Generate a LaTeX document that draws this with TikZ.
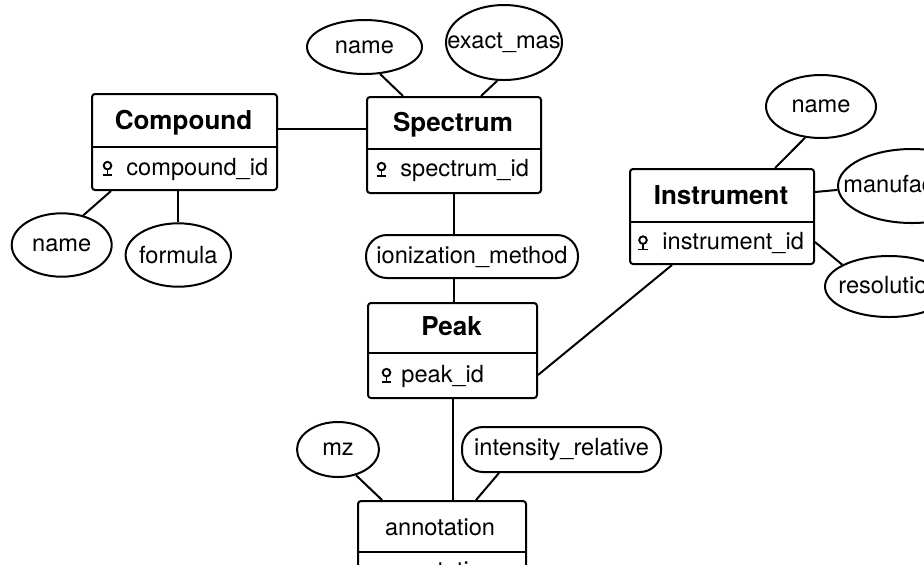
\documentclass[tikz,border=0pt]{standalone}
\usepackage{fontspec}
\setmainfont{TeX Gyre Heros}
\usetikzlibrary{calc,shapes.geometric}

\tikzset{
  ent/.style={draw, line width=1pt, rounded corners=1.5pt, inner sep=0pt, anchor=north west},
  attrell/.style={draw, ellipse, line width=1pt, inner sep=0pt},
  stad/.style={draw, line width=1pt, rounded corners=10.5pt, inner sep=0pt,
               font=\fontsize{11.8}{14}\selectfont},
  ttl/.style={font=\fontsize{13}{15}\selectfont\bfseries, inner sep=0pt, anchor=base},
  txt/.style={font=\fontsize{11.8}{14}\selectfont, inner sep=0pt},
  lbl/.style={label={[txt]center:#1}},
  link/.style={line width=1pt},
  keypic/.pic={
    \draw[line width=0.95pt] (0,4.7pt) circle[radius=1.9pt];
    \draw[line width=0.95pt] (0,2.8pt) -- (0,0) (-2.4pt,0) -- (2.4pt,0);
  }
}

\begin{document}
\begin{tikzpicture}[x=0.5pt, y=-0.5pt]
  \useasboundingbox (0,0) rectangle (924,564);
  \fill[white] (0,0) rectangle (924,564);
  \clip (0,0) rectangle (924,564);

  % ---------- entities ----------
  \node[ent, minimum width=92.5pt, minimum height=48pt] (comp)  at (91,93)   {};
  \node[ent, minimum width=87pt,   minimum height=48pt] (spec)  at (366,96)  {};
  \node[ent, minimum width=92pt,   minimum height=47.5pt] (instr) at (629,168) {};
  \node[ent, minimum width=84.5pt, minimum height=47.5pt] (peak)  at (367,302) {};
  \node[ent, minimum width=84pt,   minimum height=47pt] (annot) at (357,500) {};

  \draw[link] ($(comp.north west)+(0,54)$)  -- ($(comp.north east)+(0,54)$);
  \draw[link] ($(spec.north west)+(0,53)$)  -- ($(spec.north east)+(0,53)$);
  \draw[link] ($(instr.north west)+(0,54)$) -- ($(instr.north east)+(0,54)$);
  \draw[link] ($(peak.north west)+(0,51)$)  -- ($(peak.north east)+(0,51)$);
  \draw[link] ($(annot.north west)+(0,52)$) -- ($(annot.north east)+(0,52)$);

  % titles
  \node[ttl] (compT)  at (183.5,129) {Compound};
  \node[ttl] (specT)  at (453,131)   {Spectrum};
  \node[ttl] (instrT) at (721,204)   {Instrument};
  \node[ttl] (peakT)  at (451.5,335) {Peak};
  \node[txt, anchor=base] (annotT) at (440,535) {annotation};

  % key attributes
  \pic at (107.5,175) {keypic};
  \node[txt, anchor=base west] (compK) at (126,175) {compound\_id};
  \pic at (381.5,176) {keypic};
  \node[txt, anchor=base west] (specK) at (400,176) {spectrum\_id};
  \pic at (643,249.5) {keypic};
  \node[txt, anchor=base west] (instrK) at (662,249.5) {instrument\_id};
  \pic at (386.5,382) {keypic};
  \node[txt, anchor=base west] (peakK) at (401,382) {peak\_id};
  \node[txt, anchor=base] (annotK) at (440,578) {annotation};

  % ---------- attributes ----------
  \node[attrell, minimum width=57.5pt, minimum height=27pt,   lbl=name]          (sname)   at (364.5,47) {};
  \node[attrell, minimum width=58pt,   minimum height=37.5pt, lbl=exact\_mas]    (exact)   at (504,42.5) {};
  \node[attrell, minimum width=50pt,   minimum height=31.7pt, lbl=name]          (cname)   at (61.7,245) {};
  \node[attrell, minimum width=52.7pt, minimum height=31.7pt, lbl=formula]       (formula) at (178.3,255) {};
  \node[attrell, minimum width=55pt,   minimum height=31.5pt, lbl=name]          (iname)   at (821,106.5) {};
  \node[attrell, minimum width=74pt,   minimum height=37pt]                      (manuf)   at (912,186) {};
  \node[txt, anchor=base west] (manufT) at (843,192) {manufac};
  \node[attrell, minimum width=64pt,   minimum height=30.5pt]                    (resol)   at (889,286.5) {};
  \node[txt, anchor=base west] (resolT) at (838,293) {resolutio};
  \node[attrell, minimum width=41pt,   minimum height=27.5pt, lbl=mz]            (mz)      at (338,449.5) {};

  \node[stad, minimum width=106pt, minimum height=21.5pt] (ion) at (472,256.5) {ionization\_method};
  \node[stad, minimum width=99.5pt, minimum height=22.5pt] (int) at (561.5,449.5) {intensity\_relative};

  % ---------- connectors ----------
  \draw[link] ($(comp.north east)+(0,36)$) -- ($(spec.north west)+(0,33)$);
  \draw[link] (sname.-60) -- ($(spec.north west)+(37,0)$);
  \draw[link] (exact.-100) -- ($(spec.north west)+(115,0)$);
  \draw[link] ($(comp.south west)+(20,0)$) -- (cname.54);
  \draw[link] (formula.north) -- (formula.north |- comp.south);
  \draw[link] (spec.south) -- (spec.south |- ion.north);
  \draw[link] (spec.south |- ion.south) -- (spec.south |- peak.north);
  \draw[link] (peak.south) -- (peak.south |- annot.north);
  \draw[link] (mz.-55) -- ($(annot.north west)+(25,0)$);
  \draw[link] ($(int.south west)+(38,0)$) -- ($(annot.north west)+(119,0)$);
  \draw[link] (iname.-117) -- ($(instr.north west)+(146,0)$);
  \draw[link] ($(instr.north east)+(0,24)$) -- (manuf.-177);
  \draw[link] ($(instr.north east)+(0,74)$) -- (resol.155);
  \draw[link] ($(instr.south west)+(43,0)$) -- ($(peak.north east)+(0,73)$);
\end{tikzpicture}
\end{document}
